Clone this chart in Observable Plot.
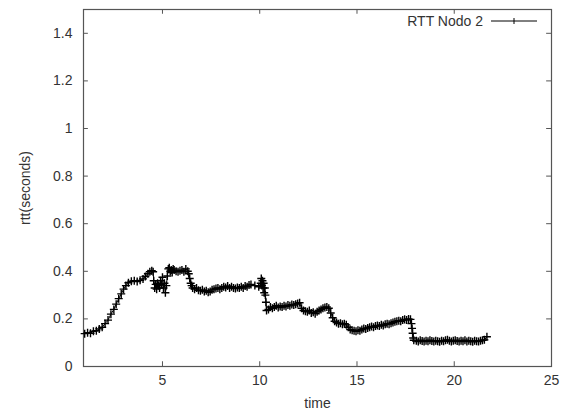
<!DOCTYPE html>
<html>
<head>
<meta charset="utf-8">
<script src="https://cdn.jsdelivr.net/npm/d3@7"></script>
<script src="https://cdn.jsdelivr.net/npm/@observablehq/plot@0.6"></script>
<style>
  html, body { margin: 0; padding: 0; background: #fff; }
  #wrap { position: relative; width: 566px; height: 417px; font-family: "Liberation Sans", Arial, sans-serif; }
  #legend { position: absolute; left: 0; top: 0; pointer-events: none; }
</style>
</head>
<body>
<div id="wrap"></div>
<script>
// ---- data ----
const seriesName = "RTT Nodo 2";
const time = [
  1.00,1.15,1.30,1.45,1.60,1.75,1.90,2.05,2.20,2.35,2.50,2.62,2.75,2.88,3.00,3.12,3.25,3.40,3.55,3.70,3.85,4.00,4.12,4.25,4.35,4.45,4.52,
  4.55,4.60,4.65,4.70,4.75,4.80,4.85,4.90,4.95,5.00,5.05,5.10,5.15,5.20,5.25,
  5.30,5.35,5.40,5.45,5.50,5.55,5.60,5.70,5.80,5.90,6.00,6.10,6.20,6.30,6.35,
  6.40,6.45,6.50,6.55,
  6.65,6.75,6.85,6.95,7.05,7.15,7.25,7.35,7.45,7.55,7.65,7.75,7.85,7.95,8.05,8.15,8.25,8.35,8.45,8.55,8.65,8.75,8.85,8.95,9.05,9.15,9.25,9.35,9.45,9.55,
  9.75,9.95,
  10.05,10.08,10.11,10.14,10.17,10.20,10.23,10.26,10.29,10.32,10.35,
  10.45,10.55,10.65,10.75,10.85,10.95,11.05,11.15,11.25,11.35,11.45,11.55,11.65,11.75,11.85,11.95,12.05,
  12.15,12.25,12.35,12.45,12.55,12.65,12.75,12.85,12.95,13.05,13.15,13.25,13.35,13.45,13.55,13.65,13.75,13.85,
  13.95,14.05,14.15,14.25,14.35,14.45,14.55,14.65,14.75,14.85,14.95,15.05,15.15,
  15.25,15.35,15.45,15.55,15.65,15.75,15.85,15.95,16.05,16.15,16.25,16.35,16.45,16.55,16.65,16.75,16.85,16.95,17.05,17.15,17.25,17.35,17.45,17.55,17.65,17.75,
  17.80,17.83,17.86,17.89,17.92,
  18.05,18.15,18.25,18.35,18.45,18.55,18.65,18.75,18.85,18.95,19.05,19.15,19.25,19.35,19.45,19.55,19.65,19.75,19.85,19.95,20.05,20.15,20.25,20.35,20.45,20.55,20.65,20.75,20.85,20.95,21.05,21.15,21.25,21.35,21.45,21.55,21.68
];
const rtt = [
  0.138,0.142,0.140,0.148,0.150,0.158,0.165,0.180,0.195,0.220,0.240,0.262,0.285,0.305,0.325,0.340,0.352,0.358,0.360,0.357,0.362,0.368,0.378,0.390,0.398,0.402,0.398,
  0.360,0.330,0.345,0.325,0.350,0.340,0.330,0.360,0.345,0.375,0.330,0.350,0.310,0.340,0.380,
  0.410,0.415,0.400,0.405,0.395,0.410,0.405,0.400,0.398,0.402,0.405,0.398,0.410,0.400,0.390,
  0.370,0.350,0.340,0.330,
  0.325,0.330,0.320,0.318,0.322,0.315,0.318,0.312,0.315,0.322,0.325,0.328,0.330,0.325,0.330,0.335,0.332,0.338,0.330,0.335,0.330,0.328,0.332,0.330,0.335,0.330,0.338,0.335,0.342,0.345,
  0.340,0.335,
  0.350,0.370,0.340,0.360,0.330,0.350,0.310,0.330,0.300,0.270,0.235,
  0.240,0.250,0.245,0.250,0.255,0.248,0.252,0.250,0.255,0.252,0.258,0.255,0.260,0.258,0.262,0.265,0.268,
  0.245,0.235,0.232,0.230,0.235,0.225,0.228,0.222,0.230,0.235,0.240,0.245,0.248,0.250,0.245,0.225,0.205,0.190,
  0.185,0.180,0.182,0.178,0.180,0.175,0.165,0.155,0.152,0.150,0.148,0.152,0.150,
  0.155,0.160,0.158,0.162,0.165,0.168,0.165,0.170,0.172,0.170,0.175,0.172,0.178,0.180,0.178,0.182,0.185,0.188,0.190,0.192,0.190,0.195,0.198,0.195,0.200,0.198,
  0.180,0.160,0.140,0.120,0.110,
  0.108,0.105,0.110,0.107,0.105,0.108,0.106,0.110,0.107,0.105,0.108,0.106,0.104,0.108,0.106,0.110,0.112,0.108,0.105,0.108,0.110,0.107,0.105,0.108,0.106,0.110,0.105,0.108,0.106,0.104,0.108,0.106,0.105,0.108,0.110,0.112,0.125
];
const xTicks = [5, 10, 15, 20, 25];
const yTicks = [0, 0.2, 0.4, 0.6, 0.8, 1, 1.2, 1.4];
const xDomain = [0.94, 25];
const yDomain = [0, 1.5];

const data = time.map((t, i) => ({time: t, rtt: rtt[i]}));

const ink = "#333";
const chart = Plot.plot({
  width: 566,
  height: 417,
  marginLeft: 83,
  marginRight: 15,
  marginTop: 9,
  marginBottom: 51,
  style: {fontFamily: "'Liberation Sans', Arial, sans-serif", fontSize: "14px", color: ink, background: "white"},
  x: {domain: xDomain},
  y: {domain: yDomain},
  marks: [
    Plot.frame({stroke: "#555", strokeWidth: 1.2}),
    // inward ticks on all four sides (gnuplot style)
    Plot.ruleX(xTicks, {y1: yDomain[0], y2: yDomain[0] + 0.02, stroke: "#555"}),
    Plot.ruleX(xTicks, {y1: yDomain[1], y2: yDomain[1] - 0.02, stroke: "#555"}),
    Plot.ruleY(yTicks, {x1: xDomain[0], x2: xDomain[0] + 0.25, stroke: "#555"}),
    Plot.ruleY(yTicks, {x1: xDomain[1], x2: xDomain[1] - 0.25, stroke: "#555"}),
    Plot.axisX(xTicks, {tickSize: 0, tickPadding: 9, tickFormat: d => String(d), label: "time", labelAnchor: "center", labelArrow: "none", labelOffset: 41, fill: ink}),
    Plot.axisY(yTicks, {tickSize: 0, tickPadding: 11, tickFormat: d => String(d), label: "rtt(seconds)", labelAnchor: "center", labelArrow: "none", labelOffset: 63, fill: ink}),
    Plot.line(data, {x: "time", y: "rtt", stroke: "black", strokeWidth: 1}),
    Plot.dot(data, {x: "time", y: "rtt", symbol: "plus", r: 2.7, stroke: "black", strokeWidth: 1.4})
  ]
});
const wrap = document.getElementById("wrap");
wrap.appendChild(chart);

// legend (gnuplot key, top-right inside the frame)
const ns = "http://www.w3.org/2000/svg";
const leg = document.createElementNS(ns, "svg");
leg.setAttribute("id", "legend");
leg.setAttribute("width", 566);
leg.setAttribute("height", 40);
leg.innerHTML =
  `<text x="483" y="26" text-anchor="end" font-family="'Liberation Sans', Arial, sans-serif" font-size="14" fill="${ink}">${seriesName}</text>` +
  `<line x1="491" x2="537" y1="21" y2="21" stroke="black" stroke-width="1"/>` +
  `<line x1="514" x2="514" y1="18" y2="24" stroke="black" stroke-width="1"/>`;
wrap.appendChild(leg);
</script>
</body>
</html>
